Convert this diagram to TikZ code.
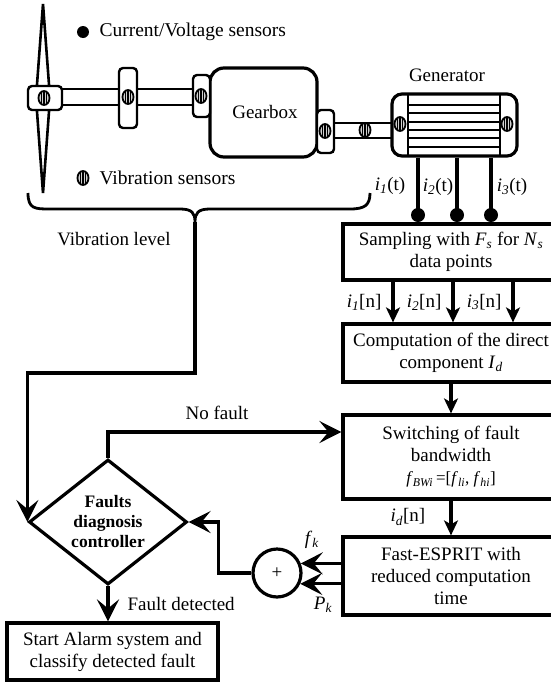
\documentclass[tikz,border=0pt]{standalone}
\usepackage{fontspec}
\setmainfont{Liberation Serif}
\usetikzlibrary{arrows.meta,shapes.geometric}
\newcommand\boxfont{\fontsize{19}{22}\selectfont}
\newcommand\isub[2]{\textit{#1}\textsubscript{\textit{#2}}}
\tikzset{
  flow/.style ={line width=3.2pt},
  big/.style  ={flow, -{Stealth[length=22pt,width=22pt,inset=9pt]}},
  small/.style={flow, -{Stealth[length=15pt,width=14pt,inset=4pt]}},
  blk/.style  ={draw, line width=3.2pt, minimum width=216pt, inner sep=0pt, align=center},
  dec/.style  ={draw, diamond, line width=3.2pt, inner sep=0pt, aspect=1.26,
                minimum width=158pt, minimum height=125pt, align=center,
                font=\bfseries\fontsize{17.5}{20}\selectfont},
  sum/.style  ={draw, circle, line width=3.2pt, minimum size=48pt, inner sep=0pt},
  dot/.style  ={circle, fill, minimum size=14pt, inner sep=0pt},
  part/.style ={line width=2.4pt, fill=white, rounded corners=4pt},
  vibsensor/.pic={
    \draw[line width=1.8pt, fill=gray!35] (0,0) ellipse (5.5pt and 7pt);
    \draw[line width=1.2pt] (-2.2,-5) -- (-2.2,5) (0,-6.5) -- (0,6.5) (2.2,-5) -- (2.2,5);
  }
}

\begin{document}
\begin{tikzpicture}[x=1pt, y=-1pt, font=\boxfont]
\useasboundingbox (0,0) rectangle (551,683);

% turbine, shafts, gearbox, generator
\draw[line width=2.6pt, fill=white] (43,4) -- (50,98) -- (43,193) -- (36,98) -- cycle;
\draw[line width=2.4pt, fill=white] (62,89) rectangle (193,105);
\draw[part] (28,86) rectangle (62,110);
\draw[part] (119,68) rectangle (137,128);
\draw[line width=3.2pt, fill=white, rounded corners=14pt] (210,68) rectangle (317,157);
\node at (265,112) {Gearbox};
\draw[part] (193,75) rectangle (210,117);
\draw[line width=2.4pt, fill=white] (334,123) rectangle (392,138);
\draw[part] (317,110) rectangle (334,153);
\node[draw, line width=3.2pt, rounded corners=10pt, minimum width=125pt, minimum height=62pt] (gen) at (454.5,125) {};
\draw[line width=2.2pt] (408,94) -- (408,156) (500,94) -- (500,156);
\foreach \y in {105,113,122,130,138,147}
  \draw[line width=2.2pt] (408,\y) -- (500,\y);
\node at (447,75) {Generator};
\foreach \p in {(44,98),(128,97),(201,96),(325,131),(365,130),(400,124),(507,124),(83,178)}
  \pic at \p {vibsensor};

% legend
\fill (83,32) circle (6pt);
\node[anchor=west, font=\fontsize{19.5}{22}\selectfont] at (96,32) {Current/Voltage sensors};
\node[anchor=west, font=\fontsize{19.5}{22}\selectfont] at (96,178) {Vibration sensors};

% brace
\draw[flow, line width=2.8pt] (28,193) .. controls (28,209) and (35,209) .. (50,209) -- (180,209)
  .. controls (192,209) and (195,213) .. (195,222)
  .. controls (195,213) and (198,209) .. (210,209) -- (350,209)
  .. controls (365,209) and (370,205) .. (370,193);
\coordinate (vtip) at (195,222);
\node at (114,239) {Vibration level};

% blocks
\node[blk, minimum height=56pt] (samp) at (451,252) {Sampling with \isub{F}{s} for \isub{N}{s}\\data points};
\node[blk, minimum height=58pt] (comp) at (451,353) {Computation of the direct\\component \isub{I}{d}};
\node[blk, minimum height=84pt] (switch) at (451,457)
  {Switching of fault\\bandwidth\\{\fontsize{17}{19}\selectfont\isub{f}{BWi}\,=[\isub{f}{li}, \isub{f}{hi}]}};
\node[blk, minimum height=78pt] (fast) at (451,576) {Fast-ESPRIT with\\reduced computation\\time};
\node[blk, minimum width=211pt, minimum height=57pt] (alarm) at (112.5,651.5) {Start Alarm system and\\classify detected fault};
\node[dec] (ctrl) at (108,522) {Faults\\diagnosis\\controller};
\node[sum] (plus) at (277,573) {+};

% currents
\foreach \x in {418,457,491}
  \draw[flow] (gen.south -| \x,0) -- (\x,215) node[dot] {};
\node at (390,186) {\isub{i}{1}(t)};
\node at (438,187) {\isub{i}{2}(t)};
\node at (512,187) {\isub{i}{3}(t)};
\foreach \x/\k in {393/1,453/2,513/3}
  \draw[small] (samp.south -| \x,0) -- (comp.north -| \x,0)
    node[midway, left=10pt, inner sep=0pt] {\isub{i}{\k}[n]};

% flow
\draw[small] (comp.south) -- (switch.north);
\draw[small] (switch.south) -- (fast.north);
\node at (408,517) {\isub{i}{d}[n]};
\draw[big] (plus.22 -| fast.west) -- (plus.22);
\draw[big] (plus.-25 -| fast.west) -- (plus.-25);
\node at (312,540) {\isub{f}{k}};
\node at (323,605) {\isub{P}{k}};
\draw[big] (plus.west) -- ++(-33,0) |- (ctrl.east);
\draw[big] (ctrl.north) |- ([yshift=25pt]switch.west);
\node at (217,413) {No fault};
\draw[big] (vtip) -- (195,373) -| (ctrl.west);
\draw[big] (ctrl.south) -- (ctrl.south |- alarm.north)
  node[midway, right=18pt, inner sep=0pt] {Fault detected};
\end{tikzpicture}
\end{document}
